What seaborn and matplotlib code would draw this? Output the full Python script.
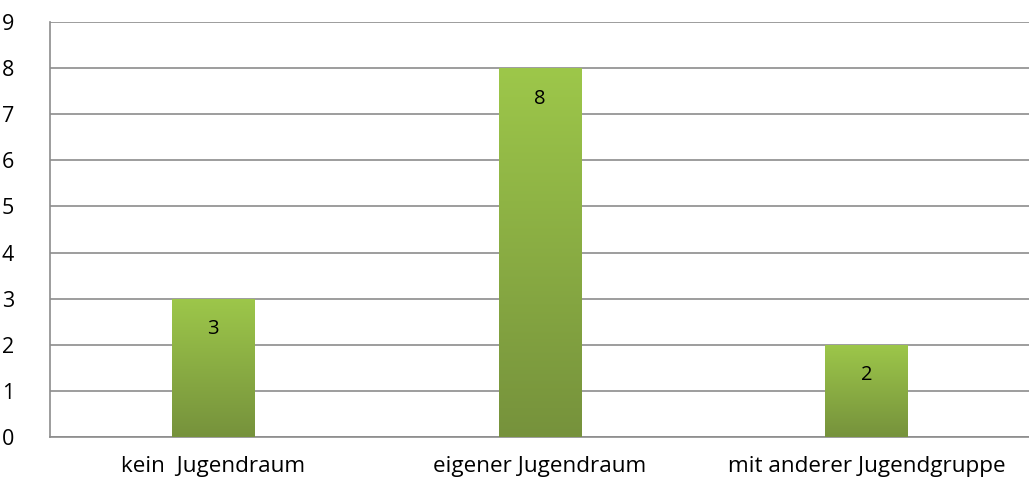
import numpy as np
import pandas as pd
import matplotlib
matplotlib.use("Agg")
import matplotlib.pyplot as plt
import seaborn as sns
from matplotlib.colors import LinearSegmentedColormap

categories = ["kein  Jugendraum", "eigener Jugendraum", "mit anderer Jugendgruppe"]
values = [3, 8, 2]
yticks = list(range(0, 10))

sns.set_theme(style="white")
plt.rcParams['font.family'] = ['Open Sans', 'DejaVu Sans']

fig = plt.figure(figsize=(10.29, 4.88), dpi=100)
ax = fig.add_axes([50/1029, 1-437/488, 980/1029, (437-22)/488])

df = pd.DataFrame({"cat": categories, "val": values})
sns.barplot(data=df, x="cat", y="val", color="#8db544", width=0.254, ax=ax, zorder=3)

cmap = LinearSegmentedColormap.from_list("g", ["#76923c", "#9dc74a"])
grad = np.linspace(0, 1, 256).reshape(-1, 1)
for p, v in zip(ax.patches, values):
    x0, y0 = p.get_x(), p.get_y()
    w, h = p.get_width(), p.get_height()
    im = ax.imshow(grad, cmap=cmap, aspect="auto", origin="lower",
                   extent=[x0, x0 + w, y0, y0 + h], zorder=4)
    im.set_clip_path(p)
    p.set_edgecolor("none")
    ax.text(x0 + w/2, v - 0.66, f"{v}", ha="center", va="center",
            fontsize=14.5, color="black", zorder=5)

ax.set_xlim(-0.5, 2.5)
ax.set_ylim(0, 9)
ax.set_yticks(yticks)
ax.set_yticklabels([str(t) for t in yticks], fontsize=15.5)
ax.tick_params(axis="y", length=0, pad=26)
ax.tick_params(axis="x", length=0, pad=14, labelsize=16.2)
for lab in ax.get_xticklabels():
    lab.set_color("black")
for lab in ax.get_yticklabels():
    lab.set_color("black")
ax.grid(axis="y", color="#8c8c8c", linewidth=1.2, zorder=0)
ax.set_axisbelow(True)
for s in ["top", "right"]:
    ax.spines[s].set_visible(False)
for s in ["left", "bottom"]:
    ax.spines[s].set_color("#8c8c8c")
    ax.spines[s].set_linewidth(1.2)
ax.set_xlabel("")
ax.set_ylabel("")

fig.savefig("out.png", dpi=100)
